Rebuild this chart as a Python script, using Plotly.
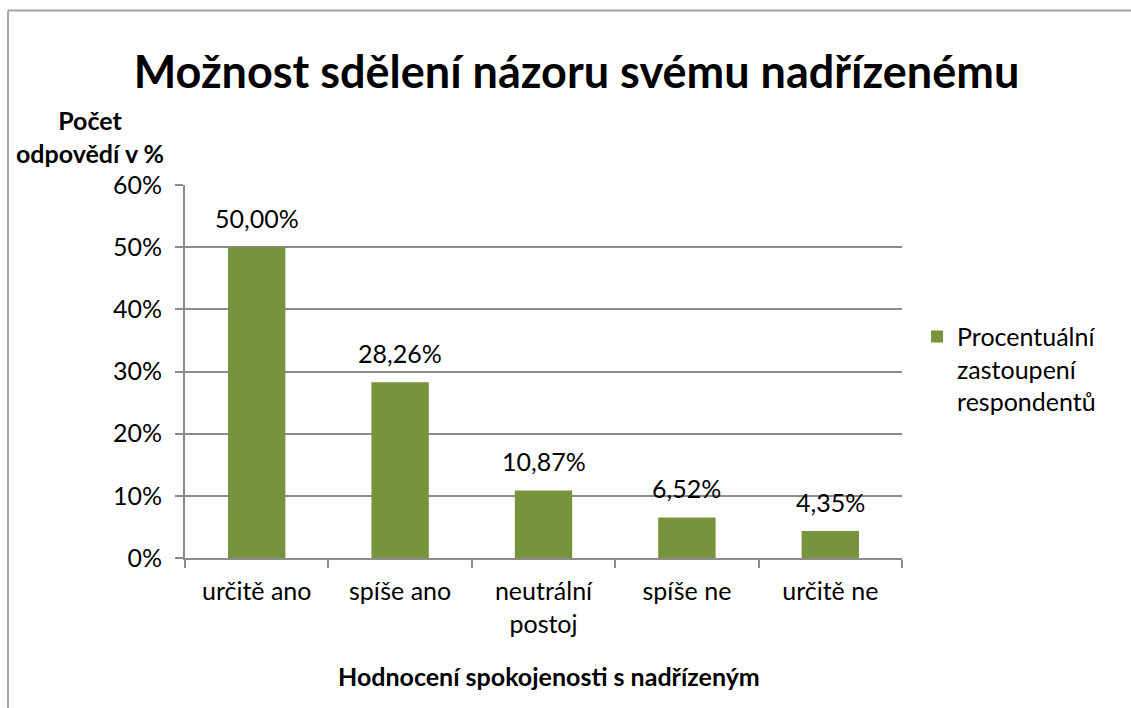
import plotly.graph_objects as go

categories = ["určitě ano", "spíše ano", "neutrální<br>postoj", "spíše ne", "určitě ne"]
values = [50.00, 28.26, 10.87, 6.52, 4.35]
series_name = "Procentuální<br>zastoupení<br>respondentů"
tick_vals = [0, 10, 20, 30, 40, 50, 60]
tick_text = ["0%", "10%", "20%", "30%", "40%", "50%", "60%"]

FONT = "Lato"
FS = 25
GRID = "#8c8c8c"
BAR = "#77933C"

fig = go.Figure()
fig.add_trace(go.Bar(
    x=categories, y=values, name=series_name,
    marker=dict(color=BAR, line=dict(width=0)),
    showlegend=True,
))

for c, v in zip(categories, values):
    fig.add_annotation(
        x=c, y=v, xref="x", yref="y",
        text=f"{v:.2f}".replace(".", ",") + "%",
        showarrow=False, yanchor="bottom", yshift=12,
        font=dict(family=FONT, size=FS, color="#000"),
    )

fig.update_layout(
    width=1131, height=708,
    margin=dict(l=185, r=229, t=185, b=150),
    paper_bgcolor="white", plot_bgcolor="white",
    separators=",.",
    bargap=0.6,
    font=dict(family=FONT, size=FS, color="#000"),
    title=dict(text="<b>Možnost sdělení názoru svému nadřízenému</b>",
               x=0.5097, xanchor="center", y=0.898, yanchor="middle",
               font=dict(family=FONT, size=45, color="#000")),
    legend=dict(x=1.021, xanchor="left", y=0.655, yanchor="top",
                valign="top", font=dict(family=FONT, size=FS, color="#000"),
                itemwidth=30, tracegroupgap=0),
    xaxis=dict(
        type="category", showgrid=False, showline=True, linecolor=GRID, linewidth=2,
        ticks="outside", tickson="boundaries", ticklen=8, tickcolor=GRID, tickwidth=2,
        tickfont=dict(family=FONT, size=FS, color="#000"),
        ticklabelstandoff=10,
        automargin=False,
    ),
    yaxis=dict(
        range=[0, 60], tickvals=tick_vals, ticktext=tick_text,
        showgrid=True, gridcolor=GRID, gridwidth=2,
        showline=True, linecolor=GRID, linewidth=2,
        ticks="outside", ticklen=8, tickcolor=GRID, tickwidth=2,
        tickfont=dict(family=FONT, size=FS, color="#000"),
        ticklabelstandoff=8,
        zeroline=False, automargin=False,
    ),
)

fig.add_annotation(
    xref="paper", yref="paper", x=-0.1325, y=1.131, xanchor="center", yanchor="middle",
    text="<b>Počet<br>odpovědí v %</b>", showarrow=False, align="center",
    font=dict(family=FONT, size=FS, color="#000"),
)

fig.add_annotation(
    xref="paper", yref="paper", x=0.5077, y=-0.316, xanchor="center", yanchor="middle",
    text="<b>Hodnocení spokojenosti s nadřízeným</b>", showarrow=False,
    font=dict(family=FONT, size=FS, color="#000"),
)

# outer chart frame (left and top edges only, as in the cropped reference)
fx0 = (8 - 185) / 717
fy1 = (558 - 10.5) / 373
fig.add_shape(type="line", xref="paper", yref="paper",
              x0=fx0, x1=fx0, y0=-0.6, y1=fy1,
              line=dict(color="#a6a6a6", width=2), layer="below")
fig.add_shape(type="line", xref="paper", yref="paper",
              x0=fx0, x1=1.5, y0=fy1, y1=fy1,
              line=dict(color="#a6a6a6", width=2), layer="below")

fig.write_html("out.html", config={"displayModeBar": False},
               post_script="document.body.style.margin='0px';")
